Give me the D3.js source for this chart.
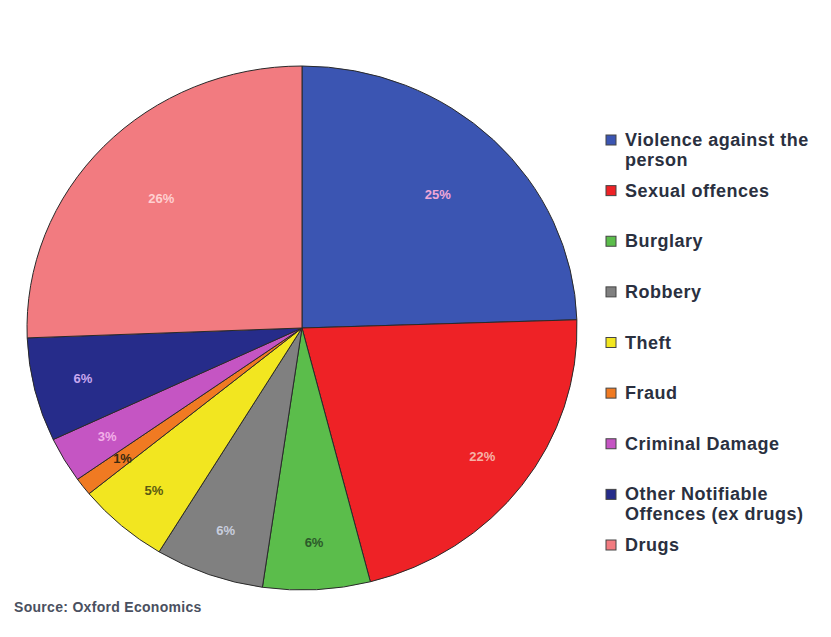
<!DOCTYPE html>
<html>
<head>
<meta charset="utf-8">
<script src="https://cdn.jsdelivr.net/npm/d3@7"></script>
<style>
  html, body { margin: 0; padding: 0; background: #ffffff; }
  svg { display: block; }
</style>
</head>
<body>
<svg id="chart" width="831" height="637"></svg>
<script>
// Share of offences by category (%), summing to 100
const categories = [
  "Violence against the person",
  "Sexual offences",
  "Burglary",
  "Robbery",
  "Theft",
  "Fraud",
  "Criminal Damage",
  "Other Notifiable Offences (ex drugs)",
  "Drugs"
];
const shares = [24.5, 21.5, 6.3, 6.4, 5.4, 1.1, 2.8, 6.4, 25.6];
const legendLines = [
  ["Violence against the", "person"],
  ["Sexual offences"],
  ["Burglary"],
  ["Robbery"],
  ["Theft"],
  ["Fraud"],
  ["Criminal Damage"],
  ["Other Notifiable", "Offences (ex drugs)"],
  ["Drugs"]
];
const sliceColors = ["#3b55b2", "#ee2226", "#5bbd4b", "#808080", "#f2e620",
                     "#f07a22", "#c555c3", "#262c8a", "#f27b80"];
const labelColors = ["#f0a8d8", "#f6b2a6", "#2c5a2a", "#c8cede", "#5a5a12",
                     "#3a2a10", "#f2b0e8", "#c8a8f0", "#ffd0d0"];
const sourceNote = "Source: Oxford Economics";

const svg = d3.select("#chart");

// Pie geometry: drawn as a circle then stretched slightly horizontally
const cx = 302, cy = 328, ry = 262, rx = 275;
const sx = rx / ry;

const color = d3.scaleOrdinal().domain(categories).range(sliceColors);
const textColor = d3.scaleOrdinal().domain(categories).range(labelColors);

const pie = d3.pie().sort(null).value(d => d.value);
const data = pie(categories.map((c, i) => ({ name: c, value: shares[i] })));

const arc = d3.arc().innerRadius(0).outerRadius(ry);

const pieG = svg.append("g")
  .attr("transform", `translate(${cx},${cy}) scale(${sx},1)`);

pieG.selectAll("path.slice")
  .data(data)
  .join("path")
  .attr("class", "slice")
  .attr("d", arc)
  .attr("fill", d => color(d.data.name))
  .attr("stroke", "#2a2a2a")
  .attr("stroke-width", 1)
  .attr("vector-effect", "non-scaling-stroke");

// Percentage labels: upper-half slices sit nearer the centre, lower ones nearer the rim
const labelArcUpper = d3.arc().innerRadius(0).outerRadius(ry * 1.42);
const labelArcLower = d3.arc().innerRadius(0).outerRadius(ry * 1.64);
const labelPos = d => {
  const mid = (d.startAngle + d.endAngle) / 2;
  return (Math.cos(mid) > 0 ? labelArcUpper : labelArcLower).centroid(d);
};

svg.append("g")
  .selectAll("text")
  .data(data)
  .join("text")
  .attr("x", d => cx + labelPos(d)[0] * sx)
  .attr("y", d => cy + labelPos(d)[1])
  .attr("text-anchor", "middle")
  .attr("dominant-baseline", "central")
  .attr("font-family", "Liberation Sans, Arial, sans-serif")
  .attr("font-size", 13)
  .attr("font-weight", "bold")
  .attr("fill", d => textColor(d.data.name))
  .text(d => Math.round(d.data.value) + "%");

// Legend
const legendY = d3.scalePoint()
  .domain(categories)
  .range([140, 545]);

const legend = svg.append("g")
  .selectAll("g")
  .data(categories)
  .join("g")
  .attr("transform", d => `translate(606,${legendY(d)})`);

legend.append("rect")
  .attr("x", 0)
  .attr("y", -5)
  .attr("width", 10)
  .attr("height", 10)
  .attr("fill", d => color(d))
  .attr("stroke", "#444")
  .attr("stroke-width", 1);

legend.append("text")
  .attr("x", 19)
  .attr("y", 0)
  .attr("dominant-baseline", "central")
  .attr("font-family", "Liberation Sans, Arial, sans-serif")
  .attr("font-size", 18)
  .attr("font-weight", "bold")
  .attr("letter-spacing", 0.5)
  .attr("fill", "#2a3040")
  .selectAll("tspan")
  .data((d, i) => legendLines[i])
  .join("tspan")
  .attr("x", 19)
  .attr("dy", (l, j) => j === 0 ? 0 : 20)
  .text(l => l);

// Source note
svg.append("text")
  .attr("x", 14)
  .attr("y", 607)
  .attr("dominant-baseline", "central")
  .attr("font-family", "Liberation Sans, Arial, sans-serif")
  .attr("font-size", 14)
  .attr("font-weight", "bold")
  .attr("letter-spacing", 0.3)
  .attr("fill", "#4a5060")
  .text(sourceNote);
</script>
</body>
</html>
